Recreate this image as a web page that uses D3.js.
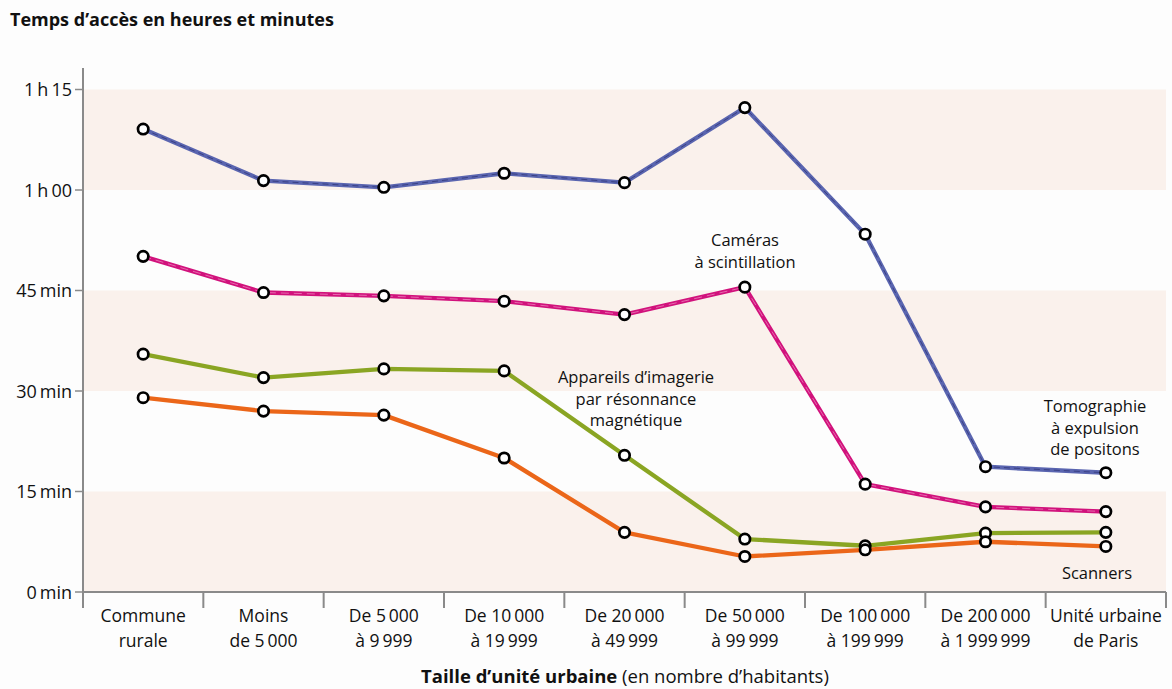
<!DOCTYPE html>
<html>
<head>
<meta charset="utf-8">
<script src="https://cdn.jsdelivr.net/npm/d3@7/dist/d3.min.js"></script>
<style>
  html, body { margin: 0; padding: 0; background: #fdfdfd; }
  svg { display: block; font-family: "Open Sans", "Noto Sans", sans-serif; }
</style>
</head>
<body>
<svg id="chart" width="1172" height="689"></svg>
<script>
// Catégories de taille d'unité urbaine (deux lignes par libellé)
const categories = [
  ["Commune", "rurale"],
  ["Moins", "de 5\u2009000"],
  ["De 5\u2009000", "à 9\u2009999"],
  ["De 10\u2009000", "à 19\u2009999"],
  ["De 20\u2009000", "à 49\u2009999"],
  ["De 50\u2009000", "à 99\u2009999"],
  ["De 100\u2009000", "à 199\u2009999"],
  ["De 200\u2009000", "à 1\u2009999\u2009999"],
  ["Unité urbaine", "de Paris"]
];

// Temps d'accès moyens, en minutes
const tomographie = [69.1, 61.4, 60.4, 62.5, 61.1, 72.3, 53.4, 18.7, 17.8];
const cameras     = [50.1, 44.7, 44.2, 43.4, 41.4, 45.5, 16.1, 12.7, 12.0];
const irm         = [35.5, 32.0, 33.3, 33.0, 20.4, 7.9, 6.9, 8.8, 8.9];
const scanners    = [29.0, 27.0, 26.4, 20.0, 8.9, 5.3, 6.3, 7.5, 6.8];

// Graduations de l'axe vertical
const yTicks = [0, 15, 30, 45, 60, 75];
const yTickLabels = ["0\u2009min", "15\u2009min", "30\u2009min", "45\u2009min", "1\u2009h\u200900", "1\u2009h\u200915"];

const series = [
  { name: "tomographie", values: tomographie, color: "#5a65b0", inner: "#2c3170", innerDash: "6,4" },
  { name: "cameras", values: cameras, color: "#d1127c", inner: "#f08cc0", innerDash: "8,5" },
  { name: "irm", values: irm, color: "#8aa523", inner: null },
  { name: "scanners", values: scanners, color: "#eb6619", inner: null }
];

const svg = d3.select("#chart");
const plotLeft = 83, plotRight = 1166, plotTop = 89.5, plotBottom = 592;

const x = d3.scaleBand().domain(d3.range(categories.length)).range([plotLeft, plotRight]).padding(0);
const y = d3.scaleLinear().domain([0, 75]).range([plotBottom, plotTop]);

// Bandes de fond alternées
const bands = [[60, 75], [30, 45], [0, 15]];
svg.append("g").selectAll("rect").data(bands).join("rect")
  .attr("x", plotLeft + 1)
  .attr("width", plotRight - plotLeft - 1)
  .attr("y", d => y(d[1]))
  .attr("height", d => y(d[0]) - y(d[1]))
  .attr("fill", "#faf1ec");

// Titre de l'axe vertical
svg.append("text")
  .attr("x", 10).attr("y", 26)
  .attr("font-size", 18).attr("font-weight", 700).attr("fill", "#111")
  .text("Temps d\u2019accès en heures et minutes");

// Axe vertical
const axisColor = "#8a8a8a";
svg.append("line")
  .attr("x1", plotLeft).attr("x2", plotLeft)
  .attr("y1", 68).attr("y2", 608)
  .attr("stroke", axisColor).attr("stroke-width", 2);

const yAxis = svg.append("g");
yAxis.selectAll("line").data(yTicks).join("line")
  .attr("x1", plotLeft - 8).attr("x2", plotLeft)
  .attr("y1", d => y(d)).attr("y2", d => y(d))
  .attr("stroke", axisColor).attr("stroke-width", 1.5);
yAxis.selectAll("text").data(yTicks).join("text")
  .attr("x", plotLeft - 11)
  .attr("y", d => y(d) + 6.5)
  .attr("text-anchor", "end")
  .attr("font-size", 18).attr("fill", "#111")
  .attr("word-spacing", 2)
  .text((d, i) => yTickLabels[i]);

// Axe horizontal
svg.append("line")
  .attr("x1", plotLeft).attr("x2", plotRight)
  .attr("y1", plotBottom).attr("y2", plotBottom)
  .attr("stroke", axisColor).attr("stroke-width", 2);

const boundaries = d3.range(categories.length + 1).map(i => i < categories.length ? x(i) : x(categories.length - 1) + x.bandwidth());
svg.append("g").selectAll("line").data(boundaries).join("line")
  .attr("x1", d => d).attr("x2", d => d)
  .attr("y1", plotBottom).attr("y2", 608)
  .attr("stroke", axisColor).attr("stroke-width", 2);

const xLabels = svg.append("g").selectAll("text").data(categories).join("text")
  .attr("text-anchor", "middle")
  .attr("font-size", 17.5).attr("fill", "#111");
xLabels.each(function(d, i) {
  const t = d3.select(this);
  const cx = x(i) + x.bandwidth() / 2;
  t.append("tspan").attr("x", cx).attr("y", 622).text(d[0]);
  t.append("tspan").attr("x", cx).attr("y", 647).text(d[1]);
});

// Titre de l'axe horizontal
const xTitle = svg.append("text")
  .attr("x", 625).attr("y", 683)
  .attr("text-anchor", "middle")
  .attr("font-size", 18.5).attr("fill", "#111");
xTitle.append("tspan").attr("font-weight", 700).text("Taille d\u2019unité urbaine");
xTitle.append("tspan").text(" (en nombre d\u2019habitants)");

// Courbes
const line = d3.line()
  .x((d, i) => x(i) + x.bandwidth() / 2)
  .y(d => y(d));

const lines = svg.append("g");
series.forEach(s => {
  lines.append("path")
    .attr("d", line(s.values))
    .attr("fill", "none")
    .attr("stroke", s.color)
    .attr("stroke-width", 4.3)
    .attr("stroke-linejoin", "round");
  if (s.inner) {
    lines.append("path")
      .attr("d", line(s.values))
      .attr("fill", "none")
      .attr("stroke", s.inner)
      .attr("stroke-width", 1)
      .attr("stroke-dasharray", s.innerDash)
      .attr("opacity", 0.7);
  }
});

// Marqueurs
series.forEach(s => {
  svg.append("g").selectAll("circle").data(s.values).join("circle")
    .attr("cx", (d, i) => x(i) + x.bandwidth() / 2)
    .attr("cy", d => y(d))
    .attr("r", 5.2)
    .attr("fill", "#fff")
    .attr("stroke", "#000")
    .attr("stroke-width", 2.7);
});

// Étiquettes des séries
const annotations = [
  { x: 745, y: 246, lines: ["Caméras", "à scintillation"] },
  { x: 636, y: 383, lines: ["Appareils d\u2019imagerie", "par résonnance", "magnétique"] },
  { x: 1095, y: 412, lines: ["Tomographie", "à expulsion", "de positons"] },
  { x: 1097, y: 579, lines: ["Scanners"] }
];
svg.append("g").selectAll("text").data(annotations).join("text")
  .attr("text-anchor", "middle")
  .attr("font-size", 16.5).attr("fill", "#111")
  .each(function(a) {
    const t = d3.select(this);
    a.lines.forEach((l, k) => {
      t.append("tspan").attr("x", a.x).attr("y", a.y + k * 21.5).text(l);
    });
  });
</script>
</body>
</html>
